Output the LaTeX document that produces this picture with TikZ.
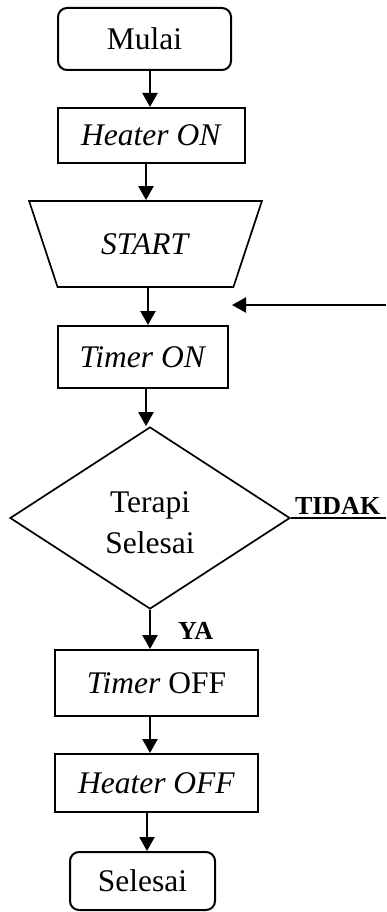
\documentclass[tikz,border=0pt]{standalone}
\usepackage{fontspec}
\setmainfont{Liberation Serif}
\usetikzlibrary{arrows.meta,shapes.geometric}
\begin{document}
\begin{tikzpicture}[x=1pt,y=-1pt,
  every node/.style={font=\fontsize{31.5}{40}\selectfont, inner sep=0pt, line width=2pt},
  term/.style={draw, rounded corners=9pt},
  proc/.style={draw},
  arr/.style={line width=2.2pt, -{Triangle[length=14pt,width=15pt]}},
  lbl/.style={font=\fontsize{26}{30}\selectfont\bfseries}]
\useasboundingbox (0,0) rectangle (386,912);
\node[term, minimum width=173pt, minimum height=62pt] (mulai) at (144.5,39) {Mulai};
\node[proc, minimum width=187pt, minimum height=55pt] (hon) at (151.5,135.5) {\textit{Heater ON}};
\node[draw, line width=1.7pt, trapezium, shape border rotate=180, trapezium stretches=true,
  trapezium angle=55.8, minimum width=233pt, minimum height=86pt] (start) at (145.5,244) {\textit{START}};
\node[proc, minimum width=170pt, minimum height=62pt] (ton) at (143,357) {\textit{Timer ON}};
\node[draw, line width=1.7pt, diamond, minimum width=280pt, minimum height=182pt] (dec) at (150,518) {};
\node[align=center, font=\fontsize{31.5}{41}\selectfont] (dectext) at (150,523) {Terapi\\Selesai};
\node[proc, minimum width=203pt, minimum height=66pt] (toff) at (156.5,683) {\textit{Timer} OFF};
\node[proc, minimum width=203pt, minimum height=58pt] (hoff) at (156.5,783) {\textit{Heater OFF}};
\node[term, minimum width=145pt, minimum height=58pt] (sel) at (142.5,881) {Selesai};
\draw[arr] ([xshift=5.5pt]mulai.south) -- ([xshift=5.5pt]mulai.south |- hon.north);
\draw[arr] ([xshift=-5.5pt]hon.south) -- ([xshift=-5.5pt]hon.south |- start.north);
\draw[arr] ([xshift=2.5pt]start.south) -- ([xshift=2.5pt]start.south |- ton.north);
\draw[arr] ([xshift=3pt]ton.south) -- ([xshift=3pt]ton.south |- dec.north);
\draw[arr] (dec.south) -- (dec.south |- toff.north);
\draw[arr] ([xshift=-6.5pt]toff.south) -- ([xshift=-6.5pt]toff.south |- hoff.north);
\draw[arr] ([xshift=-9.5pt]hoff.south) -- ([xshift=-9.5pt]hoff.south |- sel.north);
\coordinate (loopin) at (386,305);
\coordinate (loopend) at (232,305);
\draw[arr] (loopin) -- (loopend);
\coordinate (tidakend) at (386,520);
\draw[line width=1.7pt] (dec.east) -- (dec.east -| tidakend);
\node[lbl, anchor=base west] (tidak) at (294,514) {TIDAK};
\node[lbl, anchor=base west] (ya) at (177,639) {YA};
\end{tikzpicture}
\end{document}
